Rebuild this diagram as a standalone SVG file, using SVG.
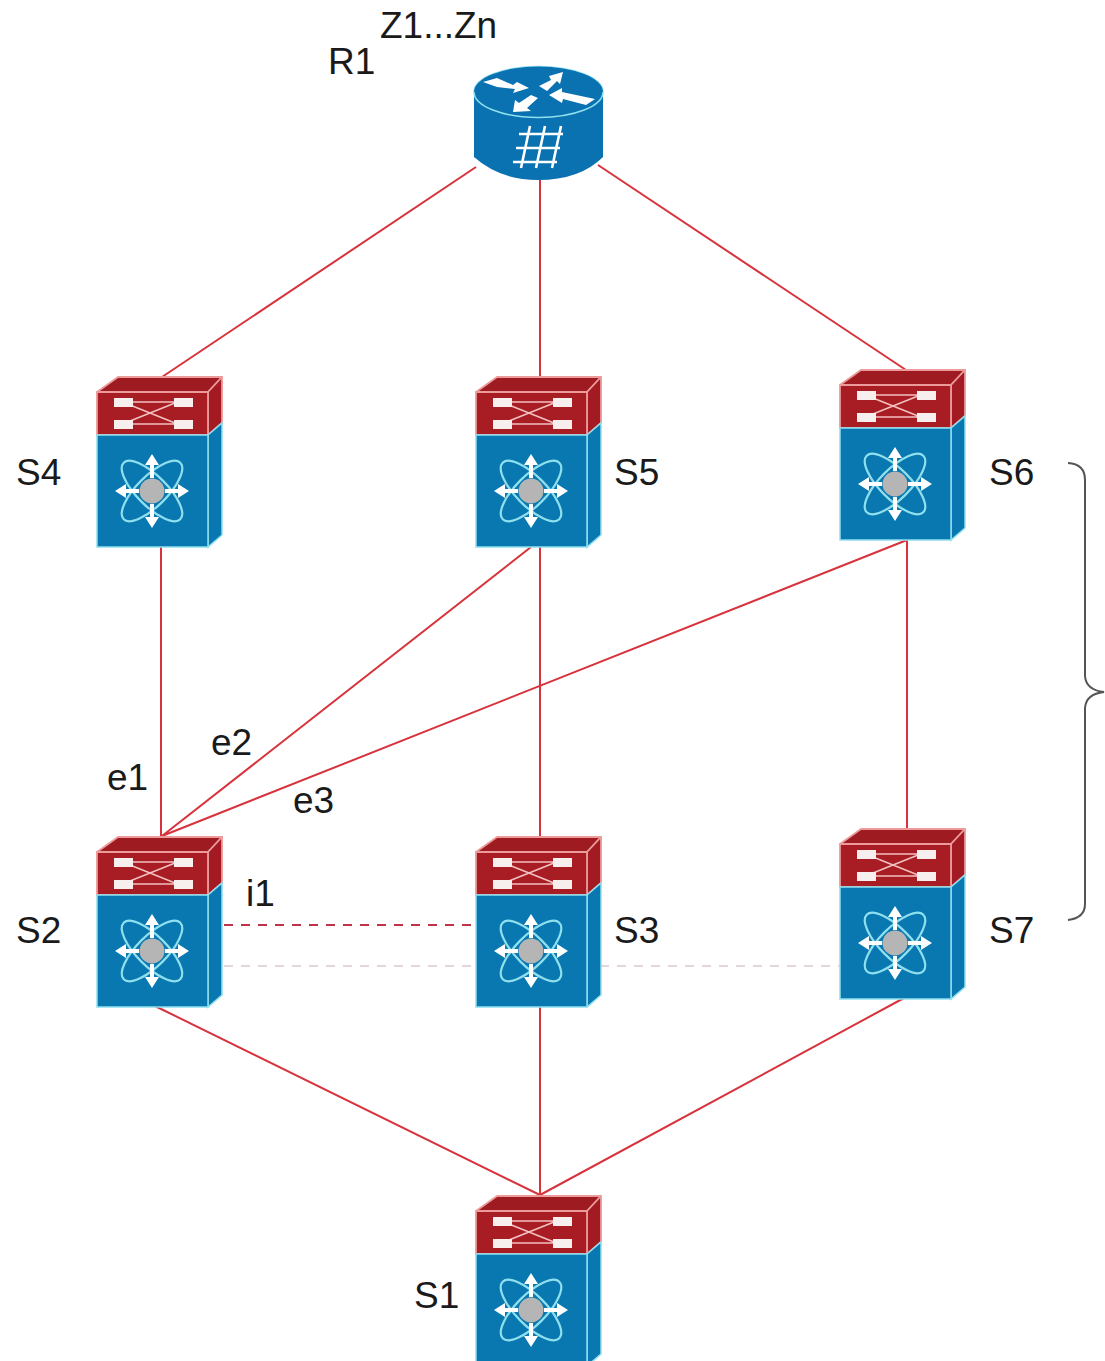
<svg xmlns="http://www.w3.org/2000/svg" xmlns:xlink="http://www.w3.org/1999/xlink" width="1105" height="1361" viewBox="0 0 1105 1361">
<style>
text{font-family:"Liberation Sans",Arial,sans-serif;font-size:37px;fill:#1a1a1a}
.l{stroke:#d8323c;stroke-width:2;fill:none}
.o{stroke:#ec9a9a;stroke-width:1.8;stroke-linejoin:round}
.w{fill:#f7eeee}
.c{stroke:#f3c0c0;stroke-width:1.6;fill:none}
.e{fill:none;stroke:#8fe0ee;stroke-width:2.2}
.a{fill:none;stroke:#fff;stroke-width:4}
.h{fill:#fff}
.g{stroke:#fff;stroke-width:2.6;fill:none}
</style>
<defs>
<g id="sw">
<path d="M0 15L21 0H125L111 15Z" fill="#9e1b22" class="o"/>
<path d="M111 15L125 0V46L111 58Z" fill="#a31a22" class="o"/>
<rect x="0" y="15" width="111" height="43" fill="#a81c24" class="o"/>
<path d="M111 58L125 46V158L111 170Z" fill="#0a78b0" stroke="#8fe0ee" stroke-width="1.500"/>
<rect x="0" y="58" width="111" height="112" fill="#0a78b0" stroke="#8fe0ee" stroke-width="1.500"/>
<path d="M28 25H78M28 47H78M28 26L78 46M28 46L78 26" class="c"/>
<rect class="w" x="17" y="21" width="19" height="9"/><rect class="w" x="77" y="21" width="19" height="9"/>
<rect class="w" x="17" y="43" width="19" height="9"/><rect class="w" x="77" y="43" width="19" height="9"/>
<g transform="translate(55 114)">
<ellipse class="e" rx="40" ry="15" transform="rotate(45)"/>
<ellipse class="e" rx="40" ry="15" transform="rotate(-45)"/>
<circle r="12.500" fill="#b5b5b5"/>
<path class="a" d="M0 -13V-30M0 13V30M-13 0H-30M13 0H30"/>
<path class="h" d="M0 -37L-7 -26H7ZM0 37L-7 26H7ZM-37 0L-26 -7V7ZM37 0L26 -7V7Z"/>
</g>
</g>
</defs>
<g id="connectors">
<path class="l" d="M476 167L162 377M540 180V377M598 165L906 370M161 547V837M540 547V837M907 540V829M162 836L531 547M162 836L907 540M155 1006L540 1195M540 1006V1195M904 998L540 1195"/>
<path d="M224 925H476" fill="none" stroke="#c0344a" stroke-width="1.800" stroke-dasharray="9 8"/>
<path d="M224 966H476M600 966H840" fill="none" stroke="#d9c8d0" stroke-width="1.600" stroke-dasharray="9 8"/>
</g>
<g id="R1">
<path d="M474 92V157Q500 180 538 180Q580 180 603 157V92Z" fill="#0a72b0"/>
<ellipse cx="538.500" cy="92" rx="64.500" ry="25.500" fill="#0a72b0" stroke="#8fe0ee" stroke-width="1.500"/>
<path d="M474 92A64.500 25.500 0 0 1 603 92Z" fill="#0a72b0"/>
<path class="h" d="M483 82L497 78L513 85L517 82L529 88L513 93L515 89L497 87Z"/>
<path class="h" d="M539 86L551 80L549 76L563 72L560 84L557 81L547 91Z"/>
<path class="h" d="M549 95L562 88L562 92L595 99L586 105L563 99L562 103Z"/>
<path class="h" d="M513 112L515 100L519 103L531 95L538 98L527 108L531 111Z"/>
<path class="g" d="M519 134H563M516 148H560M513 162H557M530 126L521 168M545 126L536 168M561 126L552 168"/>
</g>
<use id="S4" href="#sw" xlink:href="#sw" x="97" y="377"/>
<use id="S5" href="#sw" xlink:href="#sw" x="476" y="377"/>
<use id="S6" href="#sw" xlink:href="#sw" x="840" y="370"/>
<use id="S2" href="#sw" xlink:href="#sw" x="97" y="837"/>
<use id="S3" href="#sw" xlink:href="#sw" x="476" y="837"/>
<use id="S7" href="#sw" xlink:href="#sw" x="840" y="829"/>
<use id="S1" href="#sw" xlink:href="#sw" x="476" y="1196"/>
<g id="brace"><path d="M1068 463Q1085 464 1085 480V676Q1086 690 1104 692Q1086 694 1085 708V904Q1085 918 1068 920" fill="none" stroke="#555" stroke-width="2"/></g>
<g id="labels">
<text x="380" y="38">Z1...Zn</text>
<text x="328" y="74">R1</text>
<text x="16" y="485">S4</text>
<text x="614" y="485">S5</text>
<text x="989" y="485">S6</text>
<text x="16" y="943">S2</text>
<text x="614" y="943">S3</text>
<text x="989" y="943">S7</text>
<text x="414" y="1308">S1</text>
<text x="107" y="790">e1</text>
<text x="211" y="755">e2</text>
<text x="293" y="813">e3</text>
<text x="246" y="906">i1</text>
</g>
</svg>
